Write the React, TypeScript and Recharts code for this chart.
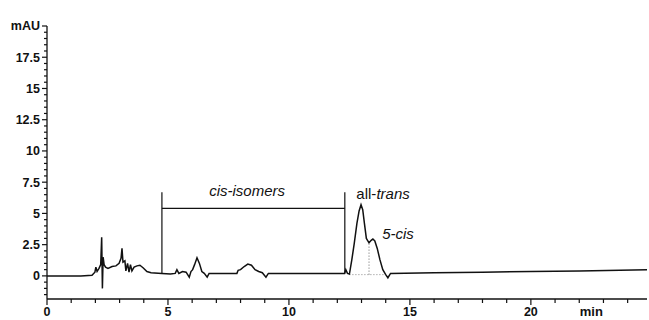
import { LineChart, Line, XAxis, YAxis, ReferenceLine, ReferenceDot } from 'recharts';

// retention time (min) and absorbance (mAU)
const traceTime = [
  0, 1.4, 1.86, 1.98, 2.02, 2.07, 2.15, 2.22, 2.26, 2.29, 2.32, 2.36, 2.42, 2.52, 2.69, 2.85, 2.98,
  3.06, 3.1, 3.14, 3.22, 3.26, 3.33, 3.39, 3.45, 3.51, 3.6, 3.72, 3.84, 3.97, 4.13, 4.3,
  4.75, 5.1, 5.3, 5.37, 5.45, 5.6, 5.75, 5.88, 5.95, 6.02, 6.1, 6.2, 6.3, 6.4, 6.5, 6.62, 6.7,
  7.3, 7.85, 7.9, 8.0, 8.15, 8.3, 8.45, 8.6, 8.75, 8.9, 9.05, 9.15, 10, 11, 12.0, 12.3, 12.35, 12.42,
  12.5, 12.6, 12.7, 12.81, 12.9, 12.98, 13.05, 13.12, 13.2, 13.31, 13.4, 13.47, 13.55, 13.65, 13.76,
  13.88, 14.0, 14.09, 14.2, 16, 18, 20, 22, 24.8,
];
const traceMAU = [
  0, 0, 0.05, 0.3, 0.7, 0.35, 0.6, 0.9, 3.1, -1.0, 1.5, 0.9, 0.7, 0.6, 0.75, 0.8, 1.0,
  1.4, 2.2, 1.1, 1.2, 0.4, 1.0, 0.3, 0.9, 0.4, 0.7, 0.8, 0.85, 0.65, 0.35, 0.25,
  0.2, 0.15, 0.2, 0.5, 0.2, 0.35, 0.3, -0.1, 0.35, 0.5, 0.9, 1.45, 1.0, 0.35, 0.2, -0.1, 0.2,
  0.2, 0.2, 0.45, 0.5, 0.75, 0.95, 0.85, 0.5, 0.35, 0.25, -0.1, 0.2, 0.2, 0.2, 0.2, 0.2, 0.5, 0.2,
  0.15, 1.3, 2.6, 4.2, 5.2, 5.7, 5.3, 4.2, 3.0, 2.65, 2.85, 2.95, 2.8, 2.2, 1.3,
  0.5, 0.1, -0.15, 0.2, 0.25, 0.3, 0.35, 0.4, 0.5,
];

const yMajorTicks = [0, 2.5, 5, 7.5, 10, 12.5, 15, 17.5, 20];
const yTickLabels = ['0', '2.5', '5', '7.5', '10', '12.5', '15', '17.5', 'mAU'];
const xLabelTicks = [0, 5, 10, 15, 20];
const xUnitTick = 22.5;

// cis-isomers bracket: [start, end] in min, bar height and top in mAU
const bracketTimes = [4.75, 12.31];
const bracketBar = 5.4;
const bracketTop = 6.7;
const bracketFoot = 0.2;

const data = traceTime.map((t, i) => ({ t, v: traceMAU[i] }));

const yMinor: number[] = [];
for (let i = -3; i <= 40; i++) yMinor.push(i * 0.5);
const xTicksAll: number[] = [];
for (let i = 0; i <= 24; i++) xTicksAll.push(i);
xTicksAll.push(xUnitTick);

const FONT = '"Liberation Sans", Arial, sans-serif';
const INK = '#111';

const YTick = (props: any) => {
  const { x, y, payload } = props;
  const idx = yMajorTicks.indexOf(payload.value);
  const major = idx >= 0;
  return (
    <g>
      <line x1={x} x2={x - (major ? 5 : 3)} y1={y} y2={y} stroke={INK} strokeWidth={1.2} />
      {major && (
        <text x={x - 7} y={y} dy="0.35em" textAnchor="end" fontSize={12.5} fontWeight="bold" fontFamily={FONT} fill={INK}>
          {yTickLabels[idx]}
        </text>
      )}
    </g>
  );
};

const XTick = (props: any) => {
  const { x, y, payload } = props;
  const v = payload.value;
  if (v === xUnitTick) {
    return (
      <text x={x} y={y + 17} textAnchor="middle" fontSize={13} fontWeight="bold" fontFamily={FONT} fill={INK}>
        min
      </text>
    );
  }
  const major = xLabelTicks.includes(v);
  return (
    <g>
      <line x1={x} x2={x} y1={y} y2={y + (major ? 6 : 4)} stroke={INK} strokeWidth={1.2} />
      {major && (
        <text x={x} y={y + 17} textAnchor="middle" fontSize={12.5} fontWeight="bold" fontFamily={FONT} fill={INK}>
          {v}
        </text>
      )}
    </g>
  );
};

const AllTransLabel = (props: any) => {
  const vb = props.viewBox || {};
  const cx = vb.x + (vb.width || 0) / 2;
  const cy = vb.y + (vb.height || 0) / 2;
  return (
    <text x={cx} y={cy} dy="0.35em" textAnchor="middle" fontSize={15} fontFamily={FONT} fill={INK}>
      <tspan>all-</tspan>
      <tspan fontStyle="italic">trans</tspan>
    </text>
  );
};

export default function App() {
  return (
    <div style={{ position: 'fixed', left: 0, top: 0, width: 649, height: 320, background: '#fff' }}>
      <LineChart width={649} height={320} data={data} margin={{ top: 26, right: 2, left: 0, bottom: 0 }}>
        <XAxis
          dataKey="t"
          type="number"
          domain={[0, 24.8]}
          ticks={xTicksAll}
          interval={0}
          tickSize={0}
          tickMargin={0}
          tickLine={false}
          height={21}
          stroke={INK}
          strokeWidth={1.3}
          tick={<XTick />}
        />
        <YAxis
          type="number"
          domain={[-1.85, 20]}
          ticks={yMinor}
          interval={0}
          tickSize={0}
          tickMargin={0}
          tickLine={false}
          width={47}
          stroke={INK}
          strokeWidth={1.3}
          tick={<YTick />}
        />
        <ReferenceLine
          segment={[{ x: bracketTimes[0], y: bracketFoot }, { x: bracketTimes[0], y: bracketTop }]}
          stroke={INK}
          strokeWidth={1.2}
        />
        <ReferenceLine
          segment={[{ x: bracketTimes[1], y: bracketFoot }, { x: bracketTimes[1], y: bracketTop }]}
          stroke={INK}
          strokeWidth={1.2}
        />
        <ReferenceLine
          segment={[{ x: bracketTimes[0], y: bracketBar }, { x: bracketTimes[1], y: bracketBar }]}
          stroke={INK}
          strokeWidth={1.2}
        />
        <ReferenceLine
          segment={[{ x: 13.31, y: 0.1 }, { x: 13.31, y: 2.6 }]}
          stroke="#666"
          strokeDasharray="1 2"
        />
        <ReferenceLine
          segment={[{ x: 12.5, y: 0.1 }, { x: 14.0, y: 0.1 }]}
          stroke="#888"
          strokeDasharray="1 2"
        />
        <Line
          type="linear"
          dataKey="v"
          stroke={INK}
          strokeWidth={1.5}
          dot={false}
          isAnimationActive={false}
        />
        <ReferenceDot
          x={8.27}
          y={6.8}
          r={0}
          stroke="none"
          label={{ value: 'cis-isomers', position: 'center', fontSize: 15, fontStyle: 'italic', fontFamily: FONT, fill: INK }}
        />
        <ReferenceDot x={13.89} y={6.57} r={0} stroke="none" label={{ content: <AllTransLabel /> }} />
        <ReferenceDot
          x={14.51}
          y={3.36}
          r={0}
          stroke="none"
          label={{ value: '5-cis', position: 'center', fontSize: 15, fontStyle: 'italic', fontFamily: FONT, fill: INK }}
        />
      </LineChart>
    </div>
  );
}
